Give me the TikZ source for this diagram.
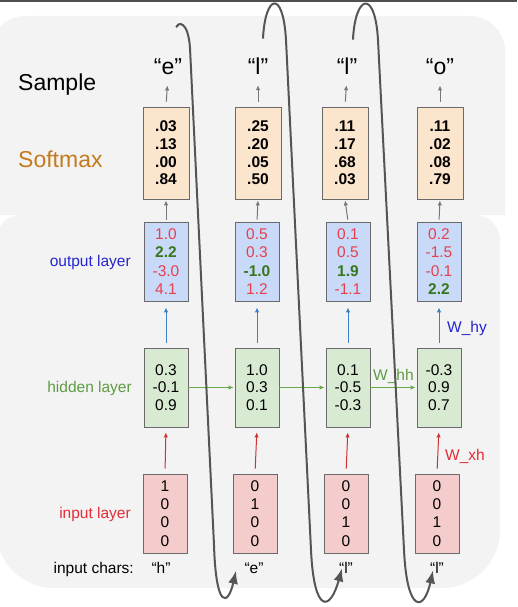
\documentclass[tikz,border=0pt]{standalone}
\usepackage{fontspec}
\setmainfont{Liberation Sans}
\usepackage{xcolor}
\usepackage{tikz}
\usetikzlibrary{arrows, arrows.meta, calc}
\definecolor{panelgray}{HTML}{F3F3F3}
\definecolor{rulegray}{HTML}{4F4F4F}
\definecolor{boxgray}{HTML}{6A6A6A}
\definecolor{softfill}{HTML}{FCE5CD}
\definecolor{outfill}{HTML}{C9DAF8}
\definecolor{hidfill}{HTML}{D9EAD3}
\definecolor{infill}{HTML}{F4CCCC}
\definecolor{valred}{HTML}{E5404E}
\definecolor{valgreen}{HTML}{38761D}
\definecolor{labblue}{HTML}{2424D0}
\definecolor{labgreen}{HTML}{5E9C43}
\definecolor{labred}{HTML}{E32D35}
\definecolor{laborange}{HTML}{C47A1D}
\definecolor{arrgray}{HTML}{777777}
\definecolor{arrblue}{HTML}{3D7FC9}
\definecolor{arrred}{HTML}{CC3333}
\definecolor{arrgreen}{HTML}{6AA84F}
\definecolor{loopgray}{HTML}{555555}
\newcommand{\redval}[1]{\textcolor{valred}{#1}}
\newcommand{\greenval}[1]{\textcolor{valgreen}{\bfseries #1}}

\begin{document}
\begin{tikzpicture}[x=1pt,y=-1pt,
layerbox/.style={rectangle,draw=boxgray,line width=0.8pt,inner sep=0pt,
  minimum width=44,minimum height=79,align=center,
  font=\fontsize{15.5}{18.3}\selectfont},
softbox/.style={layerbox,fill=softfill,minimum width=46,minimum height=92,
  font=\fontsize{15.5}{17.7}\selectfont\bfseries},
outbox/.style={layerbox,fill=outfill},
hidbox/.style={layerbox,fill=hidfill,font=\fontsize{15.5}{17.5}\selectfont},
inbox/.style={layerbox,fill=infill},
charlabel/.style={inner sep=0pt,anchor=base,font=\fontsize{23}{23}\selectfont},
inchar/.style={inner sep=0pt,anchor=base,font=\fontsize{15.5}{15.5}\selectfont},
rowlabel/.style={inner sep=0pt,anchor=base east,font=\fontsize{15.5}{15.5}\selectfont},
biglabel/.style={inner sep=0pt,anchor=base west,font=\fontsize{23}{23}\selectfont},
weightlabel/.style={inner sep=0pt,anchor=base west,font=\fontsize{15.5}{15.5}\selectfont},
grayarrow/.style={draw=arrgray,line width=1pt,-{Latex[length=5pt,width=4.5pt]}},
bluearrow/.style={grayarrow,draw=arrblue},
redarrow/.style={grayarrow,draw=arrred},
greenarrow/.style={grayarrow,draw=arrgreen},
feedback/.style={draw=loopgray,line width=2pt,-{Latex[length=13pt,width=10pt]}}]
\useasboundingbox (0,0) rectangle (517,607);
\fill[rulegray] (0,0) rectangle (517,2);
\fill[panelgray] (-10,215) [rounded corners=35] -- (-10,16) -- (505,16) [sharp corners] -- (505,215) -- cycle;
\fill[panelgray] (-4,400) [rounded corners=25] -- (-4,215) -- (500,215) [rounded corners=58] -- (500,588) -- (-4,588) -- cycle;

\node[biglabel] (lsample) at (18,91) {Sample};
\node[biglabel,text=laborange] (lsoft) at (18,167) {Softmax};
\node[rowlabel,text=labblue] (lout) at (131,266) {output layer};
\node[rowlabel,text=labgreen] (lhid) at (132,392) {hidden layer};
\node[rowlabel,text=labred] (lin) at (131,518) {input layer};
\node[rowlabel] (lchars) at (134,573) {input chars:};

\node[charlabel] (c1) at (168,75) {“e”};
\node[charlabel] (c2) at (258,75) {“l”};
\node[charlabel] (c3) at (347,75) {“l”};
\node[charlabel] (c4) at (440,75) {“o”};

\node[softbox] (s1) at (166,153) {.03\\.13\\.00\\.84};
\node[softbox] (s2) at (258,153) {.25\\.20\\.05\\.50};
\node[softbox] (s3) at (345,153) {.11\\.17\\.68\\.03};
\node[softbox] (s4) at (440,153) {.11\\.02\\.08\\.79};

\node[outbox] (o1) at (166,261.5) {\redval{1.0}\\\greenval{2.2}\\\redval{-3.0}\\\redval{4.1}};
\node[outbox] (o2) at (257,261.5) {\redval{0.5}\\\redval{0.3}\\\greenval{-1.0}\\\redval{1.2}};
\node[outbox] (o3) at (348,261.5) {\redval{0.1}\\\redval{0.5}\\\greenval{1.9}\\\redval{-1.1}};
\node[outbox] (o4) at (439,261.5) {\redval{0.2}\\\redval{-1.5}\\\redval{-0.1}\\\greenval{2.2}};

\node[hidbox] (h1) at (166,387.5) {0.3\\-0.1\\0.9};
\node[hidbox] (h2) at (257,387.5) {1.0\\0.3\\0.1};
\node[hidbox] (h3) at (348,387.5) {0.1\\-0.5\\-0.3};
\node[hidbox] (h4) at (439,387.5) {-0.3\\0.9\\0.7};

\node[inbox] (x1) at (165,513.5) {1\\0\\0\\0};
\node[inbox] (x2) at (255,513.5) {0\\1\\0\\0};
\node[inbox] (x3) at (346,513.5) {0\\0\\1\\0};
\node[inbox] (x4) at (437,513.5) {0\\0\\1\\0};

\node[inchar] (i1) at (161,573) {“h”};
\node[inchar] (i2) at (254,573) {“e”};
\node[inchar] (i3) at (346,573) {“l”};
\node[inchar] (i4) at (437,573) {“l”};

\node[weightlabel,text=labblue] (why) at (447,332) {W\_hy};
\node[weightlabel,text=labred] (wxh) at (445,460) {W\_xh};
\node[weightlabel,text=labgreen] (whh) at (373,380) {W\_hh};

\draw[grayarrow,shorten <=5pt,shorten >=10pt] (s1.north) -- (c1.south);
\draw[grayarrow,shorten <=5pt,shorten >=10pt] (s2.north) -- (c2.south);
\draw[grayarrow,shorten <=5pt,shorten >=10pt] (s3.north) -- (c3.south);
\draw[grayarrow,shorten <=5pt,shorten >=10pt] (s4.north) -- (c4.south);

\draw[grayarrow,shorten <=2pt,shorten >=1pt] (o1.north) -- (s1.south);
\draw[grayarrow,shorten <=2pt,shorten >=1pt] (o2.north) -- (s2.south);
\draw[grayarrow,shorten <=2pt,shorten >=1pt] (o3.north) -- (s3.south);
\draw[grayarrow,shorten <=2pt,shorten >=1pt] (o4.north) -- (s4.south);

\draw[bluearrow,shorten <=5pt,shorten >=6pt] (h1.north) -- (o1.south);
\draw[bluearrow,shorten <=5pt,shorten >=6pt] (h2.north) -- (o2.south);
\draw[bluearrow,shorten <=5pt,shorten >=6pt] (h3.north) -- (o3.south);
\draw[bluearrow,shorten <=5pt,shorten >=6pt] (h4.north) -- (o4.south);

\draw[redarrow,shorten <=5pt,shorten >=5pt] (x1.north) -- (h1.south);
\draw[redarrow,shorten <=5pt,shorten >=5pt] (x2.north) -- (h2.south);
\draw[redarrow,shorten <=5pt,shorten >=5pt] (x3.north) -- (h3.south);
\draw[redarrow,shorten <=5pt,shorten >=5pt] (x4.north) -- (h4.south);

\draw[greenarrow,shorten >=1pt] (h1.east) -- (h2.west);
\draw[greenarrow,shorten >=1pt] (h2.east) -- (h3.west);
\draw[greenarrow,shorten >=1pt] (h3.east) -- (h4.west);

\draw[feedback] ($(c1)+(8,-40)$) .. controls (178,22) and (188,20) .. (190,48)
  -- (214,545) .. controls (216,610) and (228,606) .. ($(i2)+(-18,3)$);
\draw[feedback] ($(c2)+(5,-28)$) .. controls (265,-5) and (283,-12) .. (286,40)
  -- (311,550) .. controls (314,614) and (330,612) .. ($(i3)+(-4,1)$);
\draw[feedback] ($(c3)+(6,-27)$) .. controls (355,-5) and (375,-12) .. (378,40)
  -- (404,550) .. controls (407,614) and (424,612) .. ($(i4)+(-4,3)$);
\end{tikzpicture}
\end{document}
